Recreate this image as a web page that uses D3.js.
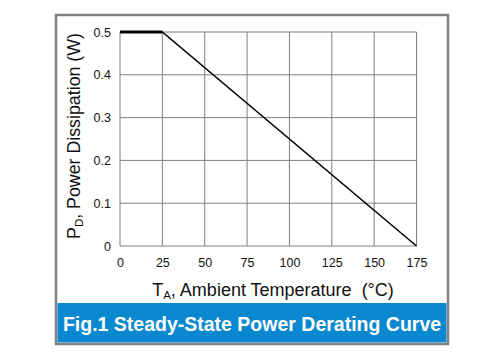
<!DOCTYPE html>
<html><head><meta charset="utf-8">
<script src="https://cdn.jsdelivr.net/npm/d3@7"></script>
<style>body{margin:0;background:#fff}svg{display:block}</style>
</head><body>
<svg id="c" width="500" height="358"></svg>
<script>
const temps = [0, 25, 175];
const power = [0.5, 0.5, 0];
const xTicks = [0, 25, 50, 75, 100, 125, 150, 175];
const yTicks = [0, 0.1, 0.2, 0.3, 0.4, 0.5];
const yTickLabels = ["0", "0.1", "0.2", "0.3", "0.4", "0.5"];
const title = "Fig.1 Steady-State Power Derating Curve";

const svg = d3.select("#c");
const font = "'Liberation Sans', Arial, sans-serif";
const x = d3.scaleLinear().domain([0, 175]).range([120, 416.5]);
const y = d3.scaleLinear().domain([0, 0.5]).range([246, 32]);

// outer frame
svg.append("rect").attr("x", 56).attr("y", 15).attr("width", 392).attr("height", 329)
  .attr("fill", "#fff").attr("stroke", "#808080").attr("stroke-width", 2.5);
// blue title band
svg.append("rect").attr("x", 57.5).attr("y", 303).attr("width", 389).attr("height", 39.5)
  .attr("fill", "#0a88cf");
svg.append("text").attr("x", 252).attr("y", 331).attr("text-anchor", "middle")
  .attr("font-family", font).attr("font-weight", "bold").attr("font-size", 19.5)
  .attr("fill", "#fff").text(title);

// grid
const g = svg.append("g");
g.selectAll(".vx").data(xTicks).join("line")
  .attr("x1", d => x(d)).attr("x2", d => x(d)).attr("y1", y(0)).attr("y2", y(0.5))
  .attr("stroke", "#7f7f7f").attr("stroke-width", 1);
g.selectAll(".hy").data(yTicks).join("line")
  .attr("x1", x(0)).attr("x2", x(175)).attr("y1", d => y(d)).attr("y2", d => y(d))
  .attr("stroke", "#7f7f7f").attr("stroke-width", 1);

// axes labels
const xa = svg.append("g").attr("transform", `translate(0,${y(0)})`)
  .call(d3.axisBottom(x).tickValues(xTicks).tickSize(0).tickPadding(12));
xa.select(".domain").remove();
xa.selectAll("text").attr("font-family", font).attr("font-size", 12.5).attr("fill", "#111");
const ya = svg.append("g").attr("transform", `translate(${x(0)},0)`)
  .call(d3.axisLeft(y).tickValues(yTicks).tickSize(0).tickPadding(9)
    .tickFormat((d, i) => yTickLabels[i]));
ya.select(".domain").remove();
ya.selectAll("text").attr("font-family", font).attr("font-size", 12.5).attr("fill", "#111");

// curve
svg.append("path").datum(temps.map((t, i) => [t, power[i]]))
  .attr("d", d3.line().x(d => x(d[0])).y(d => y(d[1])))
  .attr("fill", "none").attr("stroke", "#000").attr("stroke-width", 1.6);
svg.append("line").attr("x1", x(temps[0])).attr("x2", x(temps[1]))
  .attr("y1", y(power[0])).attr("y2", y(power[1])).attr("stroke", "#000").attr("stroke-width", 2.8);

// x title
const xt = svg.append("text").attr("x", 273).attr("y", 296).attr("text-anchor", "middle")
  .attr("font-family", font).attr("font-size", 18).attr("fill", "#111");
xt.append("tspan").text("T");
xt.append("tspan").attr("font-size", 11.5).attr("dy", 3).text("A");
xt.append("tspan").attr("dy", -3).text(", Ambient Temperature\u00a0\u00a0(°C)");

// y title
const yt = svg.append("text").attr("transform", "translate(80,136) rotate(-90)")
  .attr("text-anchor", "middle").attr("font-family", font).attr("font-size", 17.8).attr("fill", "#111");
yt.append("tspan").text("P");
yt.append("tspan").attr("font-size", 11.5).attr("dy", 3).text("D");
yt.append("tspan").attr("dy", -3).text(", Power Dissipation (W)");
</script>
</body></html>
